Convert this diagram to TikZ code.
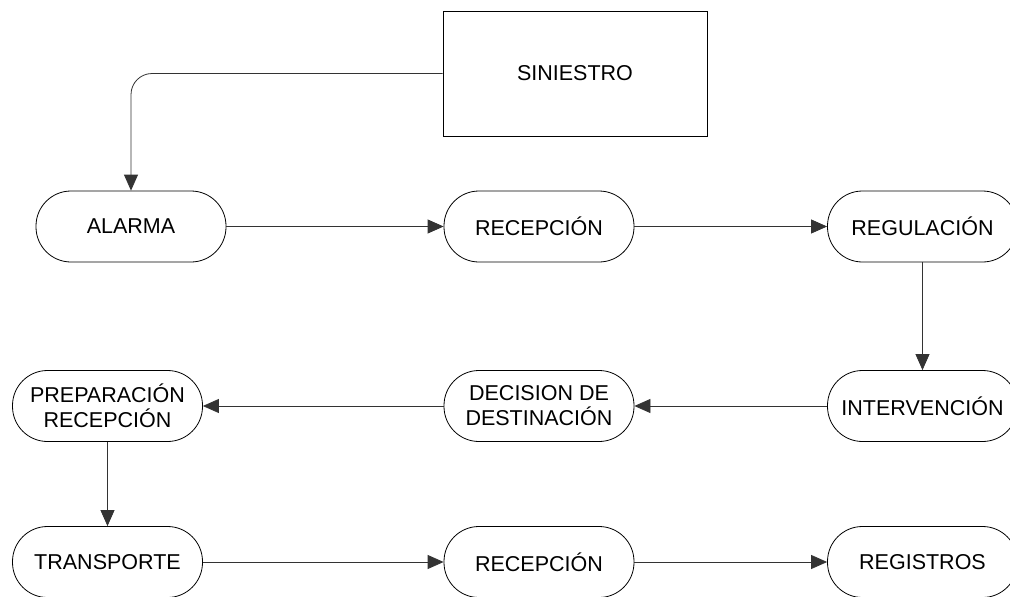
\documentclass[tikz,border=0pt]{standalone}
\usepackage{fontspec}
\setmainfont{Liberation Sans}
\usetikzlibrary{arrows.meta}
\begin{document}
\begin{tikzpicture}[x=1pt,y=-1pt,
  proc/.style={draw=black, line width=0.8pt, rounded corners=35pt, minimum width=190pt, minimum height=71pt, inner sep=0pt, align=center, font=\fontsize{21.5}{25}\selectfont},
  eventbox/.style={draw=black, line width=0.8pt, minimum width=264pt, minimum height=125pt, inner sep=0pt, font=\fontsize{21.5}{25}\selectfont},
  conn/.style={draw=black!80, line width=0.8pt, -{Triangle[length=16pt,width=14pt]}}]
\clip (0,0) rectangle (1010,597);
\fill[white] (0,0) rectangle (1010,597);
\node[eventbox] (sin) at (575,73.5) {SINIESTRO};
\node[proc] (alarma) at (131,226.5) {ALARMA};
\node[proc] (rec1) at (539,226.5) {RECEPCIÓN};
\node[proc] (reg) at (922.5,226.5) {REGULACIÓN};
\node[proc] (prep) at (107.5,406) {PREPARACIÓN\\RECEPCIÓN};
\node[proc] (dec) at (539,406) {DECISION DE\\DESTINACIÓN};
\node[proc] (int) at (922.5,406) {INTERVENCIÓN};
\node[proc] (trans) at (107.5,562) {TRANSPORTE};
\node[proc] (rec2) at (539,562) {RECEPCIÓN};
\node[proc] (regs) at (922.5,562) {REGISTROS};
\draw[conn, rounded corners=21pt] (sin.west) -| (alarma.north);
\draw[conn] (alarma) -- (rec1);
\draw[conn] (rec1) -- (reg);
\draw[conn] (reg) -- (int);
\draw[conn] (int) -- (dec);
\draw[conn] (dec) -- (prep);
\draw[conn] (prep) -- (trans);
\draw[conn] (trans) -- (rec2);
\draw[conn] (rec2) -- (regs);
\end{tikzpicture}
\end{document}
